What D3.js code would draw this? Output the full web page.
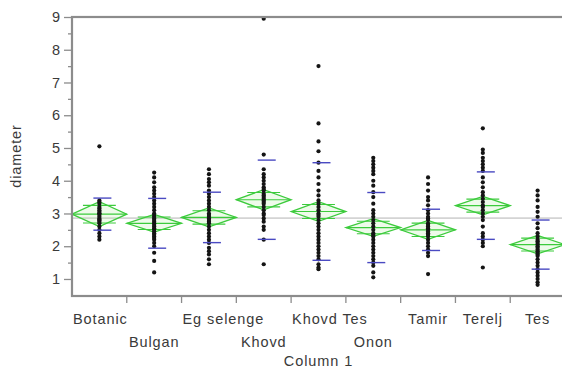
<!DOCTYPE html>
<html>
<head>
<meta charset="utf-8">
<script src="https://cdn.jsdelivr.net/npm/d3@7"></script>
<style>
  body { margin: 0; background: #fff; }
  svg { display: block; }
  text { font-family: "Liberation Sans", Arial, sans-serif; fill: #3a3a3a; }
</style>
</head>
<body>
<div class="chart"></div>
<script>
const categories = ["Botanic", "Bulgan", "Eg selenge", "Khovd", "Khovd Tes", "Onon", "Tamir", "Terelj", "Tes"];

const botanic = [5.05, 3.4, 3.35, 3.3, 3.2, 3.15, 3.1, 3.05, 3.0, 3.0, 2.95, 2.9, 2.85, 2.8, 2.8, 2.75, 2.7, 2.6, 2.5, 2.4, 2.3, 2.2];
const bulgan = [4.25, 4.1, 3.95, 3.8, 3.7, 3.6, 3.5, 3.4, 3.3, 3.2, 3.1, 3.0, 2.95, 2.9, 2.85, 2.8, 2.75, 2.7, 2.65, 2.6, 2.55, 2.5, 2.45, 2.4, 2.35, 2.3, 2.25, 2.2, 2.1, 2.0, 1.8, 1.55, 1.2];
const egSelenge = [4.35, 4.2, 4.05, 3.95, 3.85, 3.7, 3.6, 3.5, 3.4, 3.3, 3.2, 3.1, 3.0, 2.95, 2.9, 2.85, 2.8, 2.75, 2.7, 2.6, 2.5, 2.4, 2.3, 2.2, 2.1, 1.95, 1.85, 1.75, 1.6, 1.45];
const khovd = [8.95, 4.8, 4.35, 4.2, 4.1, 4.0, 3.9, 3.8, 3.75, 3.7, 3.6, 3.55, 3.5, 3.45, 3.4, 3.35, 3.3, 3.2, 3.1, 3.0, 2.95, 2.85, 2.75, 2.6, 2.5, 2.2, 1.45];
const khovdTes = [7.5, 5.75, 5.2, 4.9, 4.55, 4.3, 4.1, 3.9, 3.7, 3.55, 3.4, 3.3, 3.2, 3.1, 3.0, 2.95, 2.9, 2.8, 2.7, 2.6, 2.5, 2.4, 2.3, 2.2, 2.1, 2.0, 1.9, 1.8, 1.7, 1.6, 1.45, 1.35, 1.3];
const onon = [4.7, 4.6, 4.5, 4.4, 4.3, 4.2, 4.0, 3.85, 3.65, 3.5, 3.3, 3.1, 3.0, 2.9, 2.8, 2.7, 2.6, 2.5, 2.4, 2.35, 2.3, 2.2, 2.1, 2.0, 1.9, 1.8, 1.7, 1.6, 1.5, 1.4, 1.2, 1.05];
const tamir = [4.1, 3.9, 3.7, 3.5, 3.4, 3.25, 3.1, 3.0, 2.9, 2.85, 2.8, 2.7, 2.65, 2.6, 2.55, 2.5, 2.45, 2.4, 2.35, 2.3, 2.2, 2.1, 2.0, 1.9, 1.8, 1.7, 1.15];
const terelj = [5.6, 4.95, 4.85, 4.7, 4.6, 4.5, 4.4, 4.3, 4.1, 3.95, 3.8, 3.65, 3.55, 3.45, 3.35, 3.25, 3.2, 3.1, 3.0, 2.9, 2.8, 2.6, 2.4, 2.3, 2.2, 2.1, 2.0, 1.35];
const tes = [3.7, 3.55, 3.4, 3.2, 3.05, 2.9, 2.7, 2.55, 2.4, 2.3, 2.2, 2.15, 2.1, 2.05, 2.0, 1.95, 1.9, 1.85, 1.8, 1.75, 1.7, 1.6, 1.5, 1.4, 1.3, 1.2, 1.1, 1.0, 0.9, 0.82];
const groupValues = [botanic, bulgan, egSelenge, khovd, khovdTes, onon, tamir, terelj, tes];

// summary stats as drawn (means diamonds + std dev lines)
const groupMeans = [2.98, 2.70, 2.88, 3.42, 3.06, 2.57, 2.50, 3.24, 2.05];
const stdDevs = [0.49, 0.76, 0.77, 1.21, 1.49, 1.07, 0.63, 1.03, 0.75];
const ciHalf = [0.38, 0.27, 0.29, 0.31, 0.30, 0.27, 0.29, 0.28, 0.28];
const grandMean = 2.86;

const yTicks = [1, 2, 3, 4, 5, 6, 7, 8, 9];
const yMinorTicks = [1.5, 2.5, 3.5, 4.5, 5.5, 6.5, 7.5, 8.5];

const dim = {
  width: 562,
  height: 371,
  left: 72,
  right: 565,
  top: 17,
  bottom: 296
};

const axisGray = "#8c8c8c";
const green = "#3ccb3c";
const blue = "#4a4ac2";

const svg = d3.select(".chart").append("svg")
  .attr("width", dim.width)
  .attr("height", dim.height);

const x = d3.scaleBand()
  .domain(categories)
  .range([dim.left, dim.right])
  .padding(0);

const y = d3.scaleLinear()
  .domain([0.48, 9])
  .range([dim.bottom, dim.top]);

const bw = x.bandwidth();
const cx = d => x(d) + bw / 2;

// grand mean reference line
svg.append("line")
  .attr("x1", dim.left).attr("x2", dim.right)
  .attr("y1", y(grandMean)).attr("y2", y(grandMean))
  .attr("stroke", "#b4b4b4")
  .attr("stroke-width", 1);

// means diamonds
const diamonds = svg.append("g")
  .selectAll("g")
  .data(categories)
  .enter().append("g");

diamonds.append("path")
  .attr("d", (d, i) => {
    const m = groupMeans[i], h = ciHalf[i];
    return `M${x(d)},${y(m)}L${cx(d)},${y(m + h)}L${x(d) + bw},${y(m)}L${cx(d)},${y(m - h)}Z`;
  })
  .attr("fill", "rgba(170,235,150,0.2)")
  .attr("stroke", green)
  .attr("stroke-width", 1.3);

diamonds.append("line")
  .attr("x1", d => x(d)).attr("x2", d => x(d) + bw)
  .attr("y1", (d, i) => y(groupMeans[i]))
  .attr("y2", (d, i) => y(groupMeans[i]))
  .attr("stroke", green)
  .attr("stroke-width", 1.2);

// overlap marks
[1, -1].forEach(s => {
  diamonds.append("line")
    .attr("x1", d => x(d) + bw * 0.2).attr("x2", d => x(d) + bw * 0.8)
    .attr("y1", (d, i) => y(groupMeans[i] + s * ciHalf[i] / Math.SQRT2))
    .attr("y2", (d, i) => y(groupMeans[i] + s * ciHalf[i] / Math.SQRT2))
    .attr("stroke", green)
    .attr("stroke-width", 1.1);
});

// observations
svg.append("g")
  .selectAll("g")
  .data(categories)
  .enter().append("g")
  .selectAll("circle")
  .data((d, i) => groupValues[i].map(v => ({ cat: d, v })))
  .enter().append("circle")
  .attr("cx", d => cx(d.cat))
  .attr("cy", d => y(d.v))
  .attr("r", 2.1)
  .attr("fill", "#141414");

// std dev lines
[1, -1].forEach(s => {
  svg.append("g")
    .selectAll("line")
    .data(categories)
    .enter().append("line")
    .attr("x1", d => cx(d) - 6).attr("x2", d => cx(d) + 12)
    .attr("y1", (d, i) => y(groupMeans[i] + s * stdDevs[i]))
    .attr("y2", (d, i) => y(groupMeans[i] + s * stdDevs[i]))
    .attr("stroke", blue)
    .attr("stroke-width", 1.4);
});

// frame
svg.append("rect")
  .attr("x", dim.left).attr("y", dim.top)
  .attr("width", dim.right - dim.left)
  .attr("height", dim.bottom - dim.top)
  .attr("fill", "none")
  .attr("stroke", axisGray)
  .attr("stroke-width", 2.2);

// y axis
const yAxis = svg.append("g")
  .attr("transform", `translate(${dim.left},0)`)
  .call(d3.axisLeft(y).tickValues(yTicks).tickSize(8).tickPadding(4));
yAxis.select(".domain").remove();
yAxis.selectAll(".tick line").attr("stroke", axisGray).attr("stroke-width", 1.3);
yAxis.selectAll(".tick text")
  .attr("font-size", "14.5px")
  .attr("font-family", "Liberation Sans, Arial, sans-serif")
  .attr("fill", "#3a3a3a");

const yMinor = svg.append("g")
  .attr("transform", `translate(${dim.left},0)`)
  .call(d3.axisLeft(y).tickValues(yMinorTicks).tickSize(4).tickFormat(""));
yMinor.select(".domain").remove();
yMinor.selectAll(".tick line").attr("stroke", axisGray).attr("stroke-width", 1.3);

// x axis boundary ticks
svg.append("g")
  .selectAll("line")
  .data(categories.slice(1))
  .enter().append("line")
  .attr("x1", d => x(d)).attr("x2", d => x(d))
  .attr("y1", dim.bottom).attr("y2", dim.bottom + 7)
  .attr("stroke", axisGray)
  .attr("stroke-width", 1.3);

// category labels, staggered when they collide
const rowY = [324, 347];
const labels = svg.append("g")
  .selectAll("text")
  .data(categories)
  .enter().append("text")
  .attr("font-size", "14.5px")
  .attr("letter-spacing", "0.9px")
  .text(d => d);

let lastRight = -Infinity;
labels.each(function (d) {
  const t = d3.select(this);
  const w = this.getComputedTextLength();
  let left = w > bw - 2 ? x(d) + 1 : cx(d) - w / 2;
  let row = 0;
  if (left < lastRight + 6) row = 1;
  else lastRight = left + w;
  t.attr("x", left).attr("y", rowY[row]);
});

svg.append("text")
  .attr("x", (dim.left + dim.right) / 2)
  .attr("y", 366)
  .attr("text-anchor", "middle")
  .attr("font-size", "14.5px")
  .attr("letter-spacing", "0.9px")
  .text("Column 1");

svg.append("text")
  .attr("transform", "translate(21,156) rotate(-90)")
  .attr("text-anchor", "middle")
  .attr("font-size", "14.5px")
  .attr("letter-spacing", "0.9px")
  .text("diameter");
</script>
</body>
</html>
